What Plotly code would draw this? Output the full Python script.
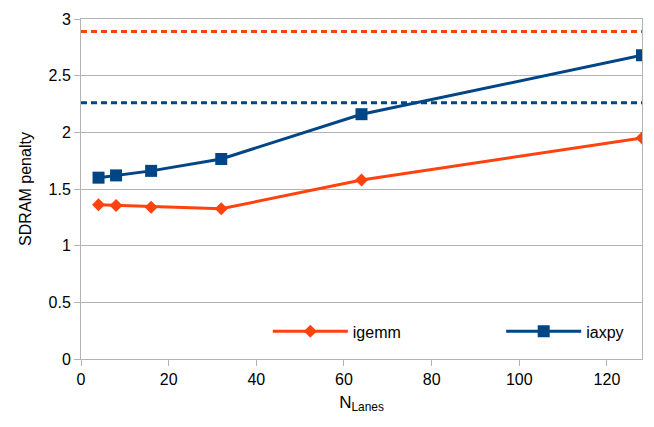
import plotly.graph_objects as go

# Number of lanes and measured SDRAM penalty per kernel
lanes = [4, 8, 16, 32, 64, 128]
igemm = [1.36, 1.355, 1.34, 1.325, 1.58, 1.95]
iaxpy = [1.60, 1.62, 1.66, 1.765, 2.16, 2.68]

# Reference levels (dashed) per kernel
igemm_ref = 2.89
iaxpy_ref = 2.26

x_range = [0, 128]
x_ticks = [0, 20, 40, 60, 80, 100, 120]
y_ticks = [0, 0.5, 1, 1.5, 2, 2.5, 3]
y_tick_text = ["0", "0.5", "1", "1.5", "2", "2.5", "3"]

RED = "#ff420e"
BLUE = "#004586"
GRID = "#b3b3b3"

fig = go.Figure()

fig.add_trace(go.Scatter(
    x=x_range, y=[igemm_ref, igemm_ref], mode="lines",
    line=dict(color=RED, width=3, dash="6px,4px"),
    showlegend=False, hoverinfo="skip"))
fig.add_trace(go.Scatter(
    x=x_range, y=[iaxpy_ref, iaxpy_ref], mode="lines",
    line=dict(color=BLUE, width=3, dash="6px,4px"),
    showlegend=False, hoverinfo="skip"))

fig.add_trace(go.Scatter(
    x=lanes, y=igemm, mode="lines+markers", name="igemm",
    line=dict(color=RED, width=3),
    marker=dict(symbol="diamond", size=10, color=RED),
    legend="legend"))
fig.add_trace(go.Scatter(
    x=lanes, y=iaxpy, mode="lines+markers", name="iaxpy",
    line=dict(color=BLUE, width=3),
    marker=dict(symbol="square", size=12, color=BLUE),
    legend="legend2"))

font = dict(family="Liberation Sans, Arial, sans-serif", size=16, color="#000000")
legend_style = dict(
    orientation="h", yanchor="middle", xanchor="left",
    bgcolor="rgba(0,0,0,0)", font=dict(size=16), itemwidth=75,
)

fig.update_layout(
    width=654, height=427,
    margin=dict(l=81, r=11, t=13, b=68),
    paper_bgcolor="white", plot_bgcolor="white",
    font=font,
    xaxis=dict(
        range=x_range, tickvals=x_ticks,
        showgrid=False, zeroline=False,
        showline=True, linecolor=GRID, linewidth=1, mirror=True,
        ticks="outside", ticklen=6, tickcolor=GRID,
        title=dict(text="N<sub>Lanes</sub>", font=dict(size=17), standoff=8),
    ),
    yaxis=dict(
        range=[0, 3], tickvals=y_ticks, ticktext=y_tick_text,
        showgrid=True, gridcolor=GRID, gridwidth=1, zeroline=False,
        showline=True, linecolor=GRID, linewidth=1, mirror=True,
        ticks="outside", ticklen=6, tickcolor=GRID,
        title=dict(text="SDRAM penalty", font=dict(size=16), standoff=12),
    ),
    legend=dict(x=0.333, y=0.081, **legend_style),
    legend2=dict(x=0.749, y=0.081, **legend_style),
)

fig.write_html("out.html")
